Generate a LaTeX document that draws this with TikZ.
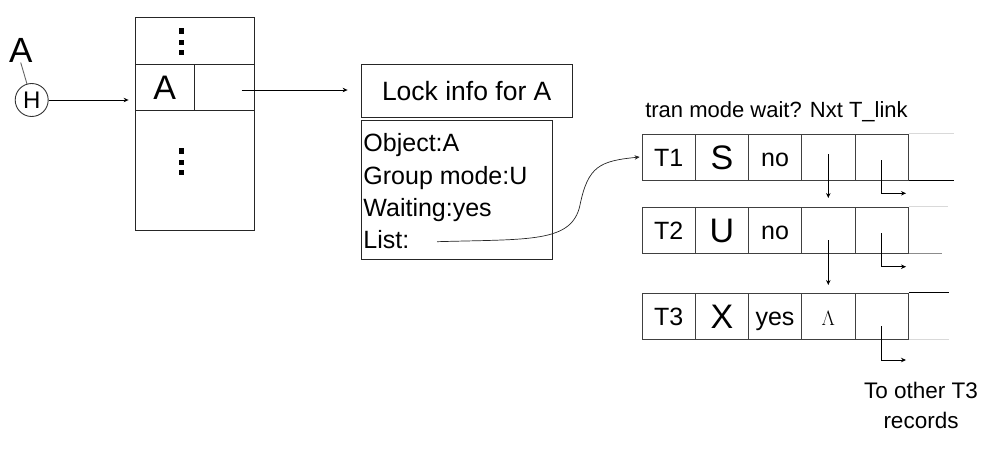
\documentclass[tikz,border=0pt]{standalone}
\usepackage{fontspec}
\setmainfont{Liberation Sans}
\usetikzlibrary{arrows.meta}
\begin{document}
\begin{tikzpicture}[x=1pt,y=-1pt, line width=0.9pt,
  fs/.style={font=\fontsize{#1}{#1}\selectfont},
  arr/.style={-{Stealth[length=5pt,width=4.5pt]}},
  cell/.style={draw=black!75, minimum width=53.3pt, minimum height=46pt, inner sep=0pt, fs=25, text height=18pt, text depth=0pt},
  big/.style={fs=34, text height=24pt},
  box/.style={draw=black!85, inner sep=0pt}]
\useasboundingbox (0,0) rectangle (992,455);
% left part
\node[fs=35, inner sep=0pt] (Alab) at (20.7,50) {A};
\node[draw=black!80, circle, minimum size=33pt, inner sep=0pt, fs=24, text height=17pt, text depth=0pt] (H) at (31.7,100) {H};
\draw[black!60] (Alab.south) -- (H);
\node[box, minimum width=119.3pt, minimum height=46.7pt] (top) at (194.7,40.7) {};
\node[box, minimum width=59.3pt, minimum height=46pt, fs=34, text height=24pt, text depth=0pt] (cA) at (164.7,87) {A};
\node[box, minimum width=60pt, minimum height=46pt] (cR) at (224.3,87) {};
\node[box, minimum width=119.3pt, minimum height=120pt] (bot) at (194.7,170) {};
\foreach \y in {31,42.5,52.5,151,162.5,172.5} \fill (178.6,\y-2.7) rectangle ++(5.4,5.4);
\draw[arr, shorten >=6pt] (H.east) -- (H.east -| cA.west);
% lock info
\node[box, minimum width=211.3pt, minimum height=53.3pt, fs=26.5] (lock) at (466.7,90.7) {Lock info for A};
\node[box, minimum width=191.7pt, minimum height=139pt] (info) at (456.9,189.5) {};
\node[fs=25, anchor=west, inner sep=0pt] (l1) at (363,145) {Object:A};
\node[fs=25, anchor=west, inner sep=0pt] (l2) at (363,178) {Group mode:U};
\node[fs=25, anchor=west, inner sep=0pt] (l3) at (363,210) {Waiting:yes};
\node[fs=25, anchor=west, inner sep=0pt] (l4) at (363,240) {List:};
\coordinate (rstart) at (241.7,90);
\draw[arr, shorten >=13pt] (rstart) -- (rstart -| lock.west);
% header
\node[fs=22, inner sep=0pt] (hdr) at (776.5,112) {tran mode wait? Nxt T\_link};
% rows
\foreach \r/\y/\a/\b/\c in {1/157/T1/S/no,2/230/T2/U/no,3/316/T3/X/yes}{
  \node[cell] (r\r c1) at (668.7,\y) {\a};
  \node[cell, big] (r\r c2) at (722,\y) {\b};
  \node[cell] (r\r c3) at (775,\y) {\c};
  \node[cell] (r\r c4) at (828.3,\y) {};
  \node[cell] (r\r c5) at (881.7,\y) {};
}
\node[fs=21, inner sep=0pt] (lam) at ([yshift=-2pt]r3c4.center) {$\Lambda$};
\draw[black!15] (r1c5.north east) -- ++(45,0);
\draw[black] (r1c5.south east) -- ++(45,0);
\draw[black!15] (r2c5.north east) -- ++(39,0);
\draw[black!45] (r2c5.south east) -- ++(33,0);
\draw[black] (r3c5.north east) -- ++(40,0);
\draw[black!15] (r3c5.south east) -- ++(40,0);
% curve
\coordinate (cs) at (437,241.7);
\draw[arr, black!85, line width=0.7pt] (cs) .. controls (530,239) and (572,243) .. (580,205)
   .. controls (588,166) and (600,161) .. ([xshift=-2pt]r1c1.west);
% Nxt arrows
\coordinate (n1) at (828.3,198);
\coordinate (n2) at (828.3,285);
\draw[arr] ([yshift=3pt]r1c4.center) -- (n1);
\draw[arr] ([yshift=-10pt]r2c4.center) -- (n2);
% T_link arrows
\coordinate (t1) at (906,193.3);
\coordinate (t2) at (906,266.7);
\coordinate (t3) at (906,360);
\draw[arr] ([yshift=-3pt]r1c5.center) |- (t1);
\draw[arr] ([yshift=-3pt]r2c5.center) |- (t2);
\draw[arr] ([yshift=-10pt]r3c5.center) |- (t3);
\node[align=center, inner sep=0pt, font=\fontsize{22.5}{30}\selectfont] (other) at (921,405) {To other T3\\records};
\end{tikzpicture}
\end{document}
